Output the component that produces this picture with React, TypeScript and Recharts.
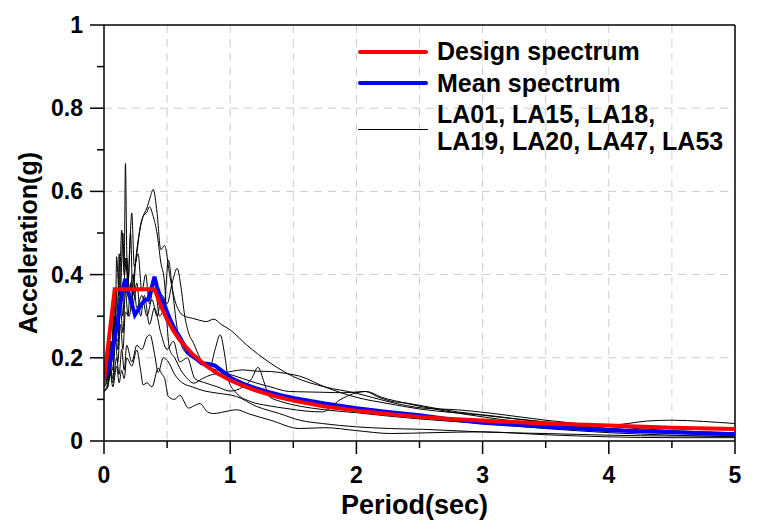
import {CartesianGrid, Legend, Line, LineChart, ReferenceLine, XAxis, YAxis} from 'recharts';

type Pt = [number, number];

const periodTicks = [0, 0.5, 1, 1.5, 2, 2.5, 3, 3.5, 4, 4.5, 5];
const accelTicks = [0, 0.1, 0.2, 0.3, 0.4, 0.5, 0.6, 0.7, 0.8, 0.9, 1];
const gridX = [0.5, 1, 1.5, 2, 2.5, 3, 3.5, 4, 4.5];
const gridY = [0.2, 0.4, 0.6, 0.8];

const legendLabels = ['Design spectrum', 'Mean spectrum'];
const recordLegend = ['LA01, LA15, LA18,', 'LA19, LA20, LA47, LA53'];

const designSpectrum: Pt[] = [
  [0, 0.146], [0.085, 0.365], [0.4, 0.365], [0.45, 0.325], [0.5, 0.292], [0.55, 0.265], [0.6, 0.243],
  [0.7, 0.209], [0.8, 0.183], [0.9, 0.162], [1.0, 0.146], [1.1, 0.133], [1.2, 0.122], [1.35, 0.108],
  [1.5, 0.097], [1.75, 0.083], [2.0, 0.073], [2.25, 0.065], [2.5, 0.058], [2.75, 0.053], [3.0, 0.049],
  [3.5, 0.042], [4.0, 0.037], [4.5, 0.032], [5.0, 0.029],
];

const meanSpectrum: Pt[] = [
  [0, 0.15], [0.02, 0.16], [0.05, 0.19], [0.08, 0.24], [0.1, 0.27], [0.12, 0.31], [0.14, 0.35],
  [0.16, 0.38], [0.17, 0.39], [0.18, 0.37], [0.2, 0.35], [0.22, 0.33], [0.245, 0.303], [0.27, 0.315],
  [0.3, 0.33], [0.325, 0.339], [0.35, 0.34], [0.37, 0.36], [0.4, 0.395], [0.42, 0.37], [0.45, 0.345],
  [0.483, 0.323], [0.52, 0.295], [0.563, 0.267], [0.6, 0.25], [0.668, 0.211], [0.72, 0.2], [0.774, 0.187],
  [0.83, 0.185], [0.88, 0.181], [0.95, 0.165], [1.01, 0.151], [1.1, 0.138], [1.2, 0.127], [1.3, 0.118],
  [1.4, 0.11], [1.51, 0.103], [1.75, 0.09], [2.0, 0.079], [2.25, 0.07], [2.5, 0.062], [2.75, 0.052],
  [3.0, 0.044], [3.5, 0.034], [4.0, 0.026], [4.5, 0.021], [5.0, 0.016],
];

const LA01: Pt[] = [
  [0, 0.14], [0.02, 0.15], [0.04, 0.19], [0.05, 0.16], [0.06, 0.24], [0.07, 0.2], [0.08, 0.3], [0.09, 0.25],
  [0.1, 0.36], [0.11, 0.3], [0.12, 0.45], [0.13, 0.36], [0.15, 0.5], [0.16, 0.42], [0.17, 0.667], [0.18, 0.46],
  [0.19, 0.38], [0.21, 0.5], [0.23, 0.33], [0.26, 0.38], [0.29, 0.3], [0.32, 0.35], [0.36, 0.28], [0.4, 0.32],
  [0.45, 0.26], [0.5, 0.22], [0.55, 0.24], [0.6, 0.19], [0.66, 0.2], [0.72, 0.15], [0.8, 0.14], [0.9, 0.13],
  [1.0, 0.12], [1.1, 0.13], [1.17, 0.15], [1.22, 0.177], [1.27, 0.14], [1.31, 0.107], [1.4, 0.095],
  [1.5, 0.087], [1.75, 0.075], [2.0, 0.068], [2.25, 0.06], [2.5, 0.053], [3.0, 0.042], [3.5, 0.03],
  [4.0, 0.02], [4.5, 0.014], [5.0, 0.01],
];

const LA15: Pt[] = [
  [0, 0.13], [0.03, 0.15], [0.05, 0.2], [0.07, 0.17], [0.09, 0.27], [0.11, 0.22], [0.13, 0.32], [0.15, 0.26],
  [0.17, 0.36], [0.19, 0.3], [0.21, 0.38], [0.23, 0.35], [0.25, 0.43], [0.28, 0.5], [0.31, 0.54], [0.34, 0.56],
  [0.37, 0.59], [0.39, 0.605], [0.42, 0.55], [0.45, 0.46], [0.48, 0.47], [0.52, 0.4], [0.56, 0.34], [0.6, 0.31],
  [0.64, 0.3], [0.7, 0.295], [0.76, 0.29], [0.81, 0.287], [0.87, 0.293], [0.93, 0.28], [1.0, 0.267],
  [1.13, 0.231], [1.32, 0.187], [1.5, 0.155], [1.75, 0.13], [2.0, 0.115], [2.26, 0.094], [2.53, 0.079],
  [2.8, 0.075], [3.06, 0.067], [3.5, 0.05], [4.0, 0.035], [4.5, 0.025], [5.0, 0.02],
];

const LA18: Pt[] = [
  [0, 0.12], [0.03, 0.14], [0.05, 0.18], [0.07, 0.15], [0.09, 0.24], [0.11, 0.19], [0.13, 0.28], [0.15, 0.22],
  [0.17, 0.31], [0.2, 0.3], [0.23, 0.38], [0.26, 0.45], [0.29, 0.52], [0.31, 0.54], [0.34, 0.55], [0.36, 0.563],
  [0.39, 0.54], [0.42, 0.5], [0.45, 0.43], [0.48, 0.38], [0.5, 0.28], [0.52, 0.22], [0.56, 0.2], [0.61, 0.17],
  [0.66, 0.15], [0.71, 0.139], [0.78, 0.15], [0.86, 0.16], [0.94, 0.163], [1.02, 0.168], [1.1, 0.171],
  [1.2, 0.168], [1.32, 0.167], [1.45, 0.162], [1.55, 0.156], [1.75, 0.13], [2.0, 0.105], [2.25, 0.09],
  [2.5, 0.077], [3.0, 0.062], [3.5, 0.045], [4.0, 0.03], [4.5, 0.022], [5.0, 0.018],
];

const LA19: Pt[] = [
  [0, 0.15], [0.03, 0.17], [0.05, 0.23], [0.06, 0.19], [0.08, 0.3], [0.09, 0.26], [0.11, 0.24], [0.13, 0.36],
  [0.15, 0.3], [0.17, 0.44], [0.19, 0.38], [0.22, 0.548], [0.24, 0.42], [0.27, 0.45], [0.3, 0.36], [0.33, 0.4],
  [0.36, 0.33], [0.4, 0.38], [0.44, 0.3], [0.48, 0.33], [0.51, 0.435], [0.54, 0.37], [0.58, 0.27], [0.63, 0.22],
  [0.7, 0.2], [0.76, 0.19], [0.84, 0.179], [0.88, 0.22], [0.92, 0.255], [0.96, 0.2], [0.985, 0.147],
  [1.05, 0.115], [1.16, 0.095], [1.3, 0.085], [1.45, 0.078], [1.6, 0.072], [1.73, 0.07], [1.87, 0.099],
  [1.97, 0.113], [2.07, 0.119], [2.17, 0.106], [2.27, 0.096], [2.4, 0.091], [2.53, 0.084], [2.8, 0.07],
  [3.06, 0.061], [3.3, 0.052], [3.5, 0.046], [3.75, 0.041], [4.0, 0.038], [4.15, 0.042], [4.3, 0.048],
  [4.5, 0.05], [4.75, 0.047], [5.0, 0.042],
];

const LA20: Pt[] = [
  [0, 0.13], [0.03, 0.16], [0.05, 0.24], [0.06, 0.2], [0.08, 0.34], [0.09, 0.28], [0.1, 0.443], [0.12, 0.35],
  [0.14, 0.507], [0.16, 0.4], [0.18, 0.44], [0.2, 0.36], [0.23, 0.4], [0.26, 0.32], [0.3, 0.35], [0.34, 0.3],
  [0.38, 0.34], [0.42, 0.3], [0.46, 0.35], [0.5, 0.33], [0.54, 0.38], [0.58, 0.415], [0.61, 0.37], [0.64, 0.3],
  [0.67, 0.26], [0.71, 0.235], [0.76, 0.2], [0.82, 0.18], [0.9, 0.17], [1.0, 0.16], [1.1, 0.15], [1.2, 0.14],
  [1.32, 0.13], [1.47, 0.119], [1.6, 0.118], [1.75, 0.117], [1.9, 0.116], [2.08, 0.119], [2.2, 0.105],
  [2.3, 0.097], [2.53, 0.082], [3.0, 0.058], [3.5, 0.04], [4.0, 0.03], [4.5, 0.022], [5.0, 0.015],
];

const LA47: Pt[] = [
  [0, 0.12], [0.03, 0.13], [0.05, 0.17], [0.07, 0.14], [0.1, 0.2], [0.12, 0.16], [0.14, 0.22], [0.16, 0.17],
  [0.18, 0.23], [0.22, 0.19], [0.26, 0.23], [0.3, 0.22], [0.34, 0.25], [0.365, 0.255], [0.4, 0.21],
  [0.43, 0.165], [0.47, 0.2], [0.51, 0.19], [0.56, 0.16], [0.62, 0.14], [0.7, 0.13], [0.8, 0.12], [0.9, 0.115],
  [1.05, 0.107], [1.21, 0.083], [1.39, 0.066], [1.55, 0.05], [1.73, 0.042], [2.0, 0.034], [2.27, 0.03],
  [2.53, 0.028], [3.06, 0.021], [3.5, 0.018], [4.0, 0.014], [4.5, 0.012], [5.0, 0.012],
];

const LA53: Pt[] = [
  [0, 0.12], [0.03, 0.13], [0.05, 0.16], [0.07, 0.13], [0.1, 0.18], [0.12, 0.14], [0.14, 0.17], [0.16, 0.15],
  [0.18, 0.2], [0.22, 0.18], [0.26, 0.219], [0.29, 0.17], [0.31, 0.135], [0.34, 0.14], [0.38, 0.13],
  [0.43, 0.175], [0.46, 0.16], [0.48, 0.151], [0.51, 0.107], [0.56, 0.1], [0.6, 0.11], [0.67, 0.079],
  [0.71, 0.084], [0.76, 0.09], [0.82, 0.07], [0.87, 0.066], [0.95, 0.07], [1.05, 0.075], [1.15, 0.065],
  [1.32, 0.05], [1.55, 0.03], [1.75, 0.032], [2.0, 0.025], [2.27, 0.018], [2.6, 0.02], [3.0, 0.022],
  [3.5, 0.015], [4.0, 0.01], [4.5, 0.008], [5.0, 0.008],
];

const records = [LA01, LA15, LA18, LA19, LA20, LA47, LA53];

const toRows = (pts: Pt[]) => pts.map(([T, v]) => ({T, v}));

const FONT = '"Liberation Sans", Arial, sans-serif';

const PeriodTick = ({x, y, payload}: any) => {
  const v = payload.value;
  const major = Number.isInteger(v);
  return (
    <g>
      <line x1={x} x2={x} y1={y} y2={y + (major ? 13 : 7)} stroke="#000" strokeWidth={1.5}/>
      {major && (
        <text x={x} y={y + 42} textAnchor="middle" fontSize={23} fontWeight="bold" fontFamily={FONT} fill="#000">
          {v}
        </text>
      )}
    </g>
  );
};

const AccelTick = ({x, y, payload}: any) => {
  const v = payload.value;
  const major = Math.round(v * 10) % 2 === 0;
  return (
    <g>
      <line x1={x - (major ? 14 : 7)} x2={x} y1={y} y2={y} stroke="#000" strokeWidth={1.5}/>
      {major && (
        <text x={x - 21} y={y + 8} textAnchor="end" fontSize={23} fontWeight="bold" fontFamily={FONT} fill="#000">
          {String(Math.round(v * 10) / 10)}
        </text>
      )}
    </g>
  );
};

const legendText = {
  position: 'absolute' as const,
  left: 87,
  fontSize: 25,
  lineHeight: '28px',
  fontWeight: 'bold' as const,
  fontFamily: FONT,
  color: '#000',
  whiteSpace: 'nowrap' as const,
};

const sample = (top: number, color: string, h: number) => (
  <div style={{position: 'absolute', left: 8, top: top - h / 2, width: 70, height: h, background: color, borderRadius: h / 2}}/>
);

const SpectrumLegend = () => (
  <div style={{position: 'relative', width: 400, height: 130}}>
    {sample(22, '#ff0000', 4)}
    <div style={{...legendText, top: 7}}>{legendLabels[0]}</div>
    {sample(53, '#0000ff', 4)}
    <div style={{...legendText, top: 39}}>{legendLabels[1]}</div>
    {sample(99, '#000', 1)}
    <div style={{...legendText, top: 70}}>{recordLegend[0]}</div>
    <div style={{...legendText, top: 97}}>{recordLegend[1]}</div>
  </div>
);

export default function App() {
  return (
    <div>
      <style>{'body{margin:0}'}</style>
      <LineChart width={763} height={532} margin={{top: 25, right: 28, left: 0, bottom: 0}}>
        <CartesianGrid
          stroke="#cccccc"
          strokeDasharray="8 6"
          horizontalValues={gridY}
          verticalValues={gridX}
        />
        <XAxis
          dataKey="T"
          type="number"
          domain={[0, 5]}
          ticks={periodTicks}
          allowDataOverflow
          height={91}
          tickSize={0}
          tickMargin={0}
          tickLine={false}
          axisLine={{stroke: '#000', strokeWidth: 1.5}}
          tick={<PeriodTick/>}
          interval={0}
          label={(props: any) => {
            const vb = props.viewBox;
            return (
              <text x={vb.x + vb.width / 2 - 5} y={514} textAnchor="middle" fontSize={27} fontWeight="bold"
                    fontFamily={FONT} fill="#000">
                Period(sec)
              </text>
            );
          }}
        />
        <YAxis
          type="number"
          domain={[0, 1]}
          ticks={accelTicks}
          allowDataOverflow
          width={104}
          tickSize={0}
          tickMargin={0}
          tickLine={false}
          axisLine={{stroke: '#000', strokeWidth: 1.5}}
          tick={<AccelTick/>}
          interval={0}
          label={(props: any) => {
            const vb = props.viewBox;
            const cy = vb.y + vb.height / 2 + 10;
            return (
              <text x={37} y={cy} transform={`rotate(-90, 37, ${cy})`} textAnchor="middle" fontSize={25}
                    fontWeight="bold" fontFamily={FONT} fill="#000">
                Acceleration(g)
              </text>
            );
          }}
        />
        <ReferenceLine y={1} stroke="#000" strokeWidth={1.5}/>
        <ReferenceLine x={5} stroke="#000" strokeWidth={1.5}/>
        {records.map((rec, i) => (
          <Line
            key={i}
            data={toRows(rec)}
            dataKey="v"
            type="monotone"
            stroke="#000"
            strokeWidth={1}
            dot={false}
            isAnimationActive={false}
          />
        ))}
        <Line data={toRows(meanSpectrum)} dataKey="v" type="linear" stroke="#0000ff" strokeWidth={4}
              dot={false} isAnimationActive={false}/>
        <Line data={toRows(designSpectrum)} dataKey="v" type="linear" stroke="#ff0000" strokeWidth={4}
              dot={false} isAnimationActive={false}/>
        <Legend
          layout="vertical"
          align="center"
          verticalAlign="middle"
          wrapperStyle={{left: 350, top: 30, width: 400, height: 130}}
          content={() => <SpectrumLegend/>}
        />
      </LineChart>
    </div>
  );
}
